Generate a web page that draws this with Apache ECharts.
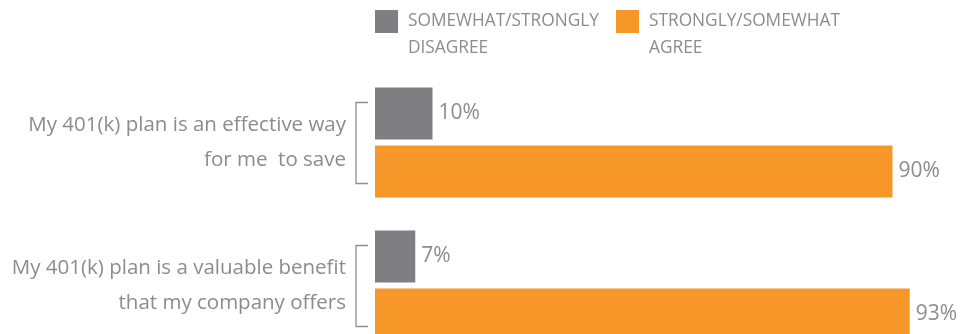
<!DOCTYPE html>
<html>
<head>
<meta charset="utf-8">
<script src="https://cdn.jsdelivr.net/npm/echarts@6/dist/echarts.min.js"></script>
<style>
  html, body { margin: 0; padding: 0; background: #ffffff; }
  #chart { width: 977px; height: 334px; }
</style>
</head>
<body>
<div id="chart"></div>
<script>
// Survey statements (category axis, top to bottom)
const categories = [
  'My 401(k) plan is an effective way\nfor me  to save',
  'My 401(k) plan is a valuable benefit\nthat my company offers'
];
// Response shares, percent
const disagreeValues = [10, 7];
const agreeValues = [90, 93];
// Series names and their legend captions (one entry per caption line)
const seriesNames = ['SOMEWHAT/STRONGLY DISAGREE', 'STRONGLY/SOMEWHAT AGREE'];
const legendCaptions = [['SOMEWHAT/STRONGLY', 'DISAGREE'], ['STRONGLY/SOMEWHAT', 'AGREE']];

const FONT = '"Open Sans", "Noto Sans", sans-serif';
const TEXT_GRAY = '#8c8c8c';
const BAR_GRAY = '#7f7e83';
const BAR_ORANGE = '#f7972a';

const chart = echarts.init(document.getElementById('chart'), null, { renderer: 'canvas' });

// Each legend entry: the swatch lines up with the caption's first line,
// so the caption is centred on a leading blank line.
function legendFor(i, left) {
  const capStyle = {
    fontFamily: FONT,
    fontSize: 17.3,
    color: TEXT_GRAY,
    lineHeight: 27,
    padding: [0, 0, 0, 5]
  };
  return {
    data: [seriesNames[i]],
    left: left,
    top: -19,
    padding: 0,
    itemWidth: 23,
    itemHeight: 23,
    itemGap: 10,
    icon: 'rect',
    selectedMode: false,
    formatter: () => '\n' + legendCaptions[i].map(s => '{c|' + s + '}').join('\n'),
    textStyle: {
      fontFamily: FONT,
      fontSize: 17.3,
      color: TEXT_GRAY,
      lineHeight: 27,
      rich: { c: capStyle }
    }
  };
}

// Bracket drawn beside each category, positioned from the category's axis coordinate
function renderBracket(params, api) {
  const p = api.coord([0, api.value(1)]);
  const x0 = p[0] - 19, x1 = p[0] - 7;
  const y0 = p[1] - 40, y1 = p[1] + 41;
  return {
    type: 'polyline',
    shape: { points: [[x1, y0], [x0, y0], [x0, y1], [x1, y1]] },
    style: { stroke: '#8e8e8e', lineWidth: 1.3, fill: null }
  };
}

const valueLabel = {
  show: true,
  position: 'right',
  distance: 6,
  formatter: '{c}%',
  fontFamily: FONT,
  fontSize: 21,
  color: TEXT_GRAY
};

chart.setOption({
  animation: false,
  legend: [legendFor(0, 375), legendFor(1, 616)],
  // Categories sit on the grid's top and bottom edges, 143px apart
  grid: { left: 375, width: 575, top: 142.5, height: 143, containLabel: false, outerBoundsMode: 'none' },
  xAxis: {
    type: 'value',
    min: 0,
    max: 100,
    show: false
  },
  yAxis: {
    type: 'category',
    data: categories,
    inverse: true,
    boundaryGap: false,
    axisLine: { show: false },
    axisTick: { show: false },
    splitLine: { show: false },
    axisLabel: {
      margin: 29,
      fontFamily: FONT,
      fontSize: 20.5,
      color: TEXT_GRAY,
      lineHeight: 35,
      align: 'right'
    }
  },
  series: [
    {
      name: seriesNames[0],
      type: 'bar',
      data: disagreeValues,
      barWidth: 52,
      barGap: '11.5%',
      clip: false,
      itemStyle: { color: BAR_GRAY },
      label: valueLabel
    },
    {
      name: seriesNames[1],
      type: 'bar',
      data: agreeValues,
      barWidth: 52,
      barGap: '11.5%',
      clip: false,
      itemStyle: { color: BAR_ORANGE },
      label: valueLabel
    },
    {
      type: 'custom',
      silent: true,
      clip: false,
      renderItem: renderBracket,
      encode: { x: 0, y: 1 },
      data: categories.map((c, i) => [0, i])
    }
  ]
});
</script>
</body>
</html>
